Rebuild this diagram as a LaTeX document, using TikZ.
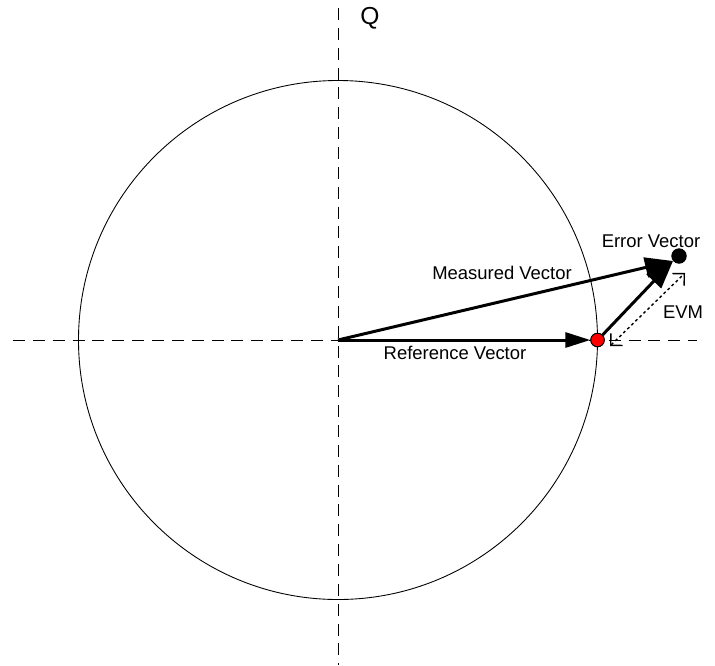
\documentclass[tikz,border=0pt]{standalone}
\usepackage{fontspec}
\setmainfont{Liberation Sans}
\usetikzlibrary{arrows.meta,positioning,calc}
\definecolor{refDot}{RGB}{255,0,0}

\begin{document}
\begin{tikzpicture}[
    axis/.style={line width=0.57pt, dash pattern=on 6.8pt off 4.5pt},
    vec/.style={line width=1.7pt, -{Triangle[length=0.56cm, width=0.4cm]}},
    lbl/.style={font=\fontsize{10.5}{12}\selectfont, inner sep=0pt},
    dot/.style={circle, draw=black, line width=0.5pt, inner sep=0pt, minimum size=#1}
]
\useasboundingbox (-6.76,-6.5) rectangle (7.54,6.8);

% axes and unit circle
\coordinate (O) at (0,0);
\coordinate (west) at (-6.5,0);
\coordinate (east) at (7.18,0);
\coordinate (north) at (0,6.64);
\coordinate (south) at (0,-6.5);
\draw[axis] (west) -- (east);
\draw[axis] (north) -- (south);
\draw[line width=0.5pt] (O) circle (5.19);

\node[font=\fontsize{14}{16}\selectfont, inner sep=0pt] (q) at (0.64,6.44) {Q};

% vectors
\coordinate (meas) at (6.70,1.58);
\node[dot=0.27cm, fill=refDot] (ref) at (5.19,0) {};
\node[dot=0.29cm, fill=black] (err) at (6.82,1.68) {};
\draw[vec] (O) -- (meas);
\draw[line width=1.7pt, -{Triangle[length=0.5cm, width=0.3cm]}] (O) -- (ref.west);
\draw[vec] (ref.north east) -- (meas);
\node[dot=0.27cm, fill=refDot] at (ref) {};

% EVM magnitude
\coordinate (evmA) at (5.44,-0.12);
\coordinate (evmB) at (6.94,1.34);
\draw[line width=0.8pt, dash pattern=on 1.6pt off 1.6pt, {Straight Barb[angle=90:0.24cm]}-{Straight Barb[angle=90:0.24cm]}] (evmA) -- (evmB);

\node[lbl] (measLbl) at (3.28,1.34) {Measured Vector};
\node[lbl] (refLbl) at (2.34,-0.26) {Reference Vector};
\node[lbl] (errLbl) at (6.26,1.98) {Error Vector};
\node[lbl] (evmLbl) at (6.90,0.56) {EVM};
\end{tikzpicture}
\end{document}
